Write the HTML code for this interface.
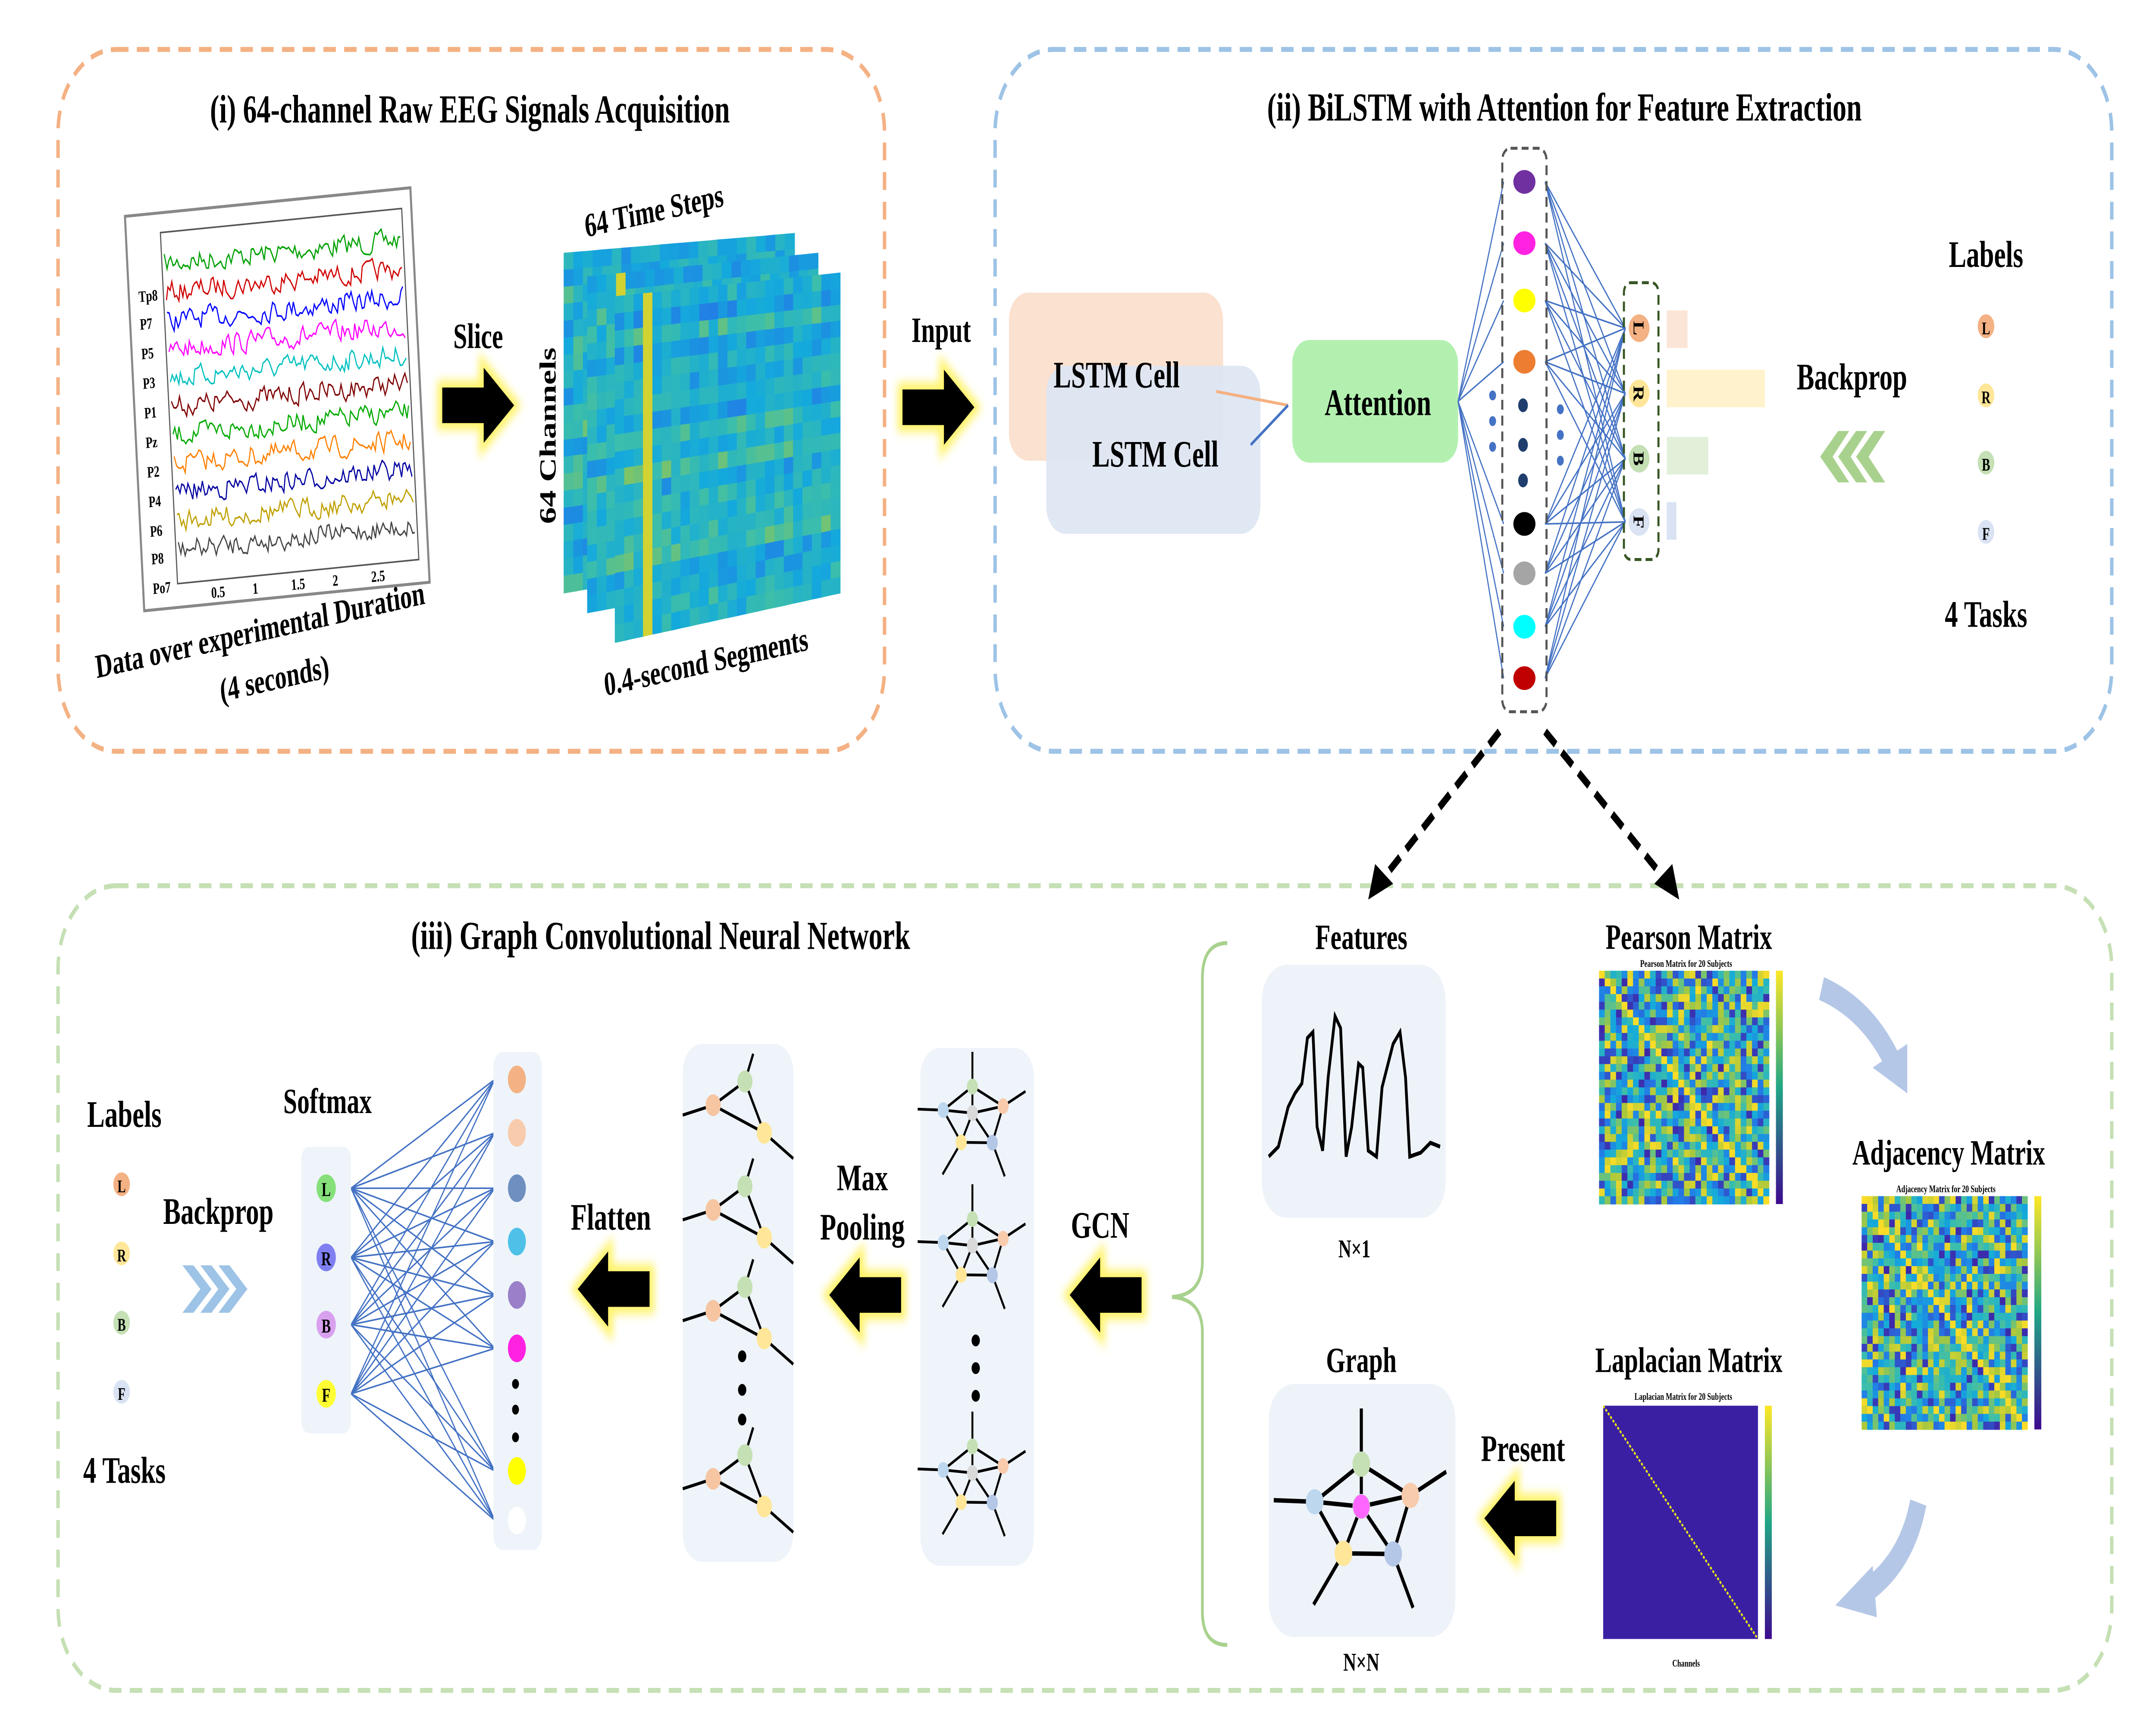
<!DOCTYPE html>
<html><head><meta charset="utf-8">
<style>
html,body{margin:0;padding:0;background:#fff;overflow:hidden;}
svg{display:block;width:100vw;height:100vh;}
text{font-family:"Liberation Serif",serif;font-weight:bold;fill:#000;}
</style></head>
<body>
<svg id="s" viewBox="0 0 1560 872.5" preserveAspectRatio="none" xmlns="http://www.w3.org/2000/svg">
<defs>
<filter id="glow" x="-30%" y="-30%" width="160%" height="160%"><feGaussianBlur stdDeviation="2.5"/></filter>
<linearGradient id="cb" x1="0" y1="1" x2="0" y2="0"><stop offset="0" stop-color="#3e0a8f"/><stop offset="0.5" stop-color="#21a685"/><stop offset="1" stop-color="#fde725"/></linearGradient>
<g id="arrR">
 <polygon points="0,-9 30,-9 30,-19 52,0 30,19 30,9 0,9" fill="#fff36a" stroke="#fff36a" stroke-width="7" filter="url(#glow)"/>
 <polygon points="0,-9 30,-9 30,-19 52,0 30,19 30,9 0,9" fill="#000"/>
</g>
<g id="tri" stroke="#000" stroke-width="1.6">
 <line x1="494" y1="568" x2="516" y2="563"/><line x1="516" y1="563" x2="539" y2="551"/>
 <line x1="539" y1="551" x2="545" y2="537"/><line x1="539" y1="551" x2="553" y2="577"/>
 <line x1="516" y1="563" x2="553" y2="577"/><line x1="553" y1="577" x2="574" y2="590"/>
 <circle cx="516" cy="563" r="5.5" fill="#f6c6a3" stroke="none"/>
 <circle cx="539" cy="551" r="5.5" fill="#c5e0b4" stroke="none"/>
 <circle cx="553" cy="577" r="5.5" fill="#ffe699" stroke="none"/>
</g>
<g id="pent" stroke="#000" stroke-width="1.4">
 <line x1="703.6" y1="549.6" x2="703.6" y2="532"/><line x1="682.5" y1="561.5" x2="664" y2="561"/>
 <line x1="725.8" y1="559.5" x2="742" y2="552"/><line x1="695.5" y1="577.8" x2="682" y2="594"/>
 <line x1="718" y1="578" x2="727" y2="595"/>
 <polygon points="703.6,549.6 725.8,559.5 718,578 695.5,577.8 682.5,561.5" fill="none"/>
 <line x1="703.6" y1="563" x2="703.6" y2="549.6"/><line x1="703.6" y1="563" x2="682.5" y2="561.5"/>
 <line x1="703.6" y1="563" x2="725.8" y2="559.5"/><line x1="703.6" y1="563" x2="695.5" y2="577.8"/>
 <line x1="703.6" y1="563" x2="718" y2="578"/>
 <circle cx="703.6" cy="563" r="4" fill="#d9d9d9" stroke="none"/>
 <circle cx="703.6" cy="549.6" r="4" fill="#c5e0b4" stroke="none"/>
 <circle cx="682.5" cy="561.5" r="4" fill="#bdd7ee" stroke="none"/>
 <circle cx="725.8" cy="559.5" r="4" fill="#f8cbad" stroke="none"/>
 <circle cx="695.5" cy="577.8" r="4" fill="#ffe699" stroke="none"/>
 <circle cx="718" cy="578" r="4" fill="#b4c7e7" stroke="none"/>
</g>
</defs>

<rect x="42" y="25" width="598" height="355" rx="42" fill="none" stroke="#f4b183" stroke-width="2.5" stroke-dasharray="9,6"/>
<rect x="720" y="25" width="808" height="355" rx="42" fill="none" stroke="#9dc3e6" stroke-width="2.5" stroke-dasharray="9,6"/>
<rect x="42" y="448" width="1486" height="407" rx="42" fill="none" stroke="#c5e0b4" stroke-width="2.5" stroke-dasharray="9,6"/>

<text x="340" y="62" font-size="20" text-anchor="middle">(i) 64-channel Raw EEG Signals Acquisition</text>
<text x="1132" y="61" font-size="20" text-anchor="middle">(ii) BiLSTM with Attention for Feature Extraction</text>
<text x="478" y="480" font-size="20" text-anchor="middle">(iii) Graph Convolutional Neural Network</text>

<g transform="rotate(-4 200 200)">
 <rect x="97" y="102" width="207" height="200" fill="#fff" stroke="#888" stroke-width="1.5"/>
 <rect x="122" y="112" width="175" height="178" fill="#fff" stroke="#555" stroke-width="0.8"/>
 <g id="eeg"></g>
 <g>
  <text x="104" y="146" font-size="8">Tp8</text><text x="104" y="160" font-size="8">P7</text>
  <text x="104" y="175" font-size="8">P5</text><text x="104" y="190" font-size="8">P3</text>
  <text x="104" y="205" font-size="8">P1</text><text x="104" y="220" font-size="8">Pz</text>
  <text x="104" y="235" font-size="8">P2</text><text x="104" y="250" font-size="8">P4</text>
  <text x="104" y="265" font-size="8">P6</text><text x="104" y="279" font-size="8">P8</text>
  <text x="104" y="294" font-size="8">Po7</text>
  <text x="146" y="299" font-size="8">0.5</text><text x="176" y="299" font-size="8">1</text>
  <text x="204" y="299" font-size="8">1.5</text><text x="234" y="299" font-size="8">2</text>
  <text x="262" y="299" font-size="8">2.5</text>
 </g>
</g>
<text transform="translate(70 343) rotate(-9)" font-size="17">Data over experimental Duration</text>
<text transform="translate(160 355) rotate(-9)" font-size="17">(4 seconds)</text>

<text x="346" y="176" font-size="18" text-anchor="middle">Slice</text>
<use href="#arrR" x="320" y="205"/>

<g id="heat"></g>
<text transform="translate(424 120) rotate(-9)" font-size="17">64 Time Steps</text>
<text transform="translate(402 265) rotate(-90)" font-size="17">64 Channels</text>
<text transform="translate(438 352) rotate(-9)" font-size="17">0.4-second Segments</text>

<text x="681" y="173" font-size="18" text-anchor="middle">Input</text>
<use href="#arrR" x="653" y="206"/>

<rect x="730" y="148" width="155" height="85" rx="14" fill="#fbe1d0"/>
<rect x="757" y="185" width="155" height="85" rx="14" fill="#dde6f3" opacity="0.92"/>
<text x="808" y="196" font-size="19" text-anchor="middle" fill="#333">LSTM Cell</text>
<text x="836" y="236" font-size="19" text-anchor="middle">LSTM Cell</text>
<line x1="880" y1="198" x2="932" y2="205" stroke="#f4b183" stroke-width="1.5"/>
<line x1="905" y1="225" x2="932" y2="205" stroke="#4472c4" stroke-width="1.5"/>
<rect x="935" y="172" width="120" height="62" rx="12" fill="#b3f0b0"/>
<text x="997" y="210" font-size="19" text-anchor="middle">Attention</text>

<g id="nn1"></g>
<rect x="1087" y="75" width="32" height="285" rx="6" fill="none" stroke="#555" stroke-width="1.5" stroke-dasharray="5,3"/>
<g>
 <ellipse cx="1103" cy="92" rx="8" ry="6" fill="#7030a0"/>
 <ellipse cx="1103" cy="123" rx="8" ry="6" fill="#ff22e0"/>
 <ellipse cx="1103" cy="152" rx="8" ry="6" fill="#ffff00"/>
 <ellipse cx="1103" cy="183" rx="8" ry="6" fill="#ed7d31"/>
 <circle cx="1102" cy="205" r="3.5" fill="#1f3e6e"/><circle cx="1102" cy="225" r="3.5" fill="#1f3e6e"/><circle cx="1102" cy="243" r="3.5" fill="#1f3e6e"/>
 <ellipse cx="1103" cy="265" rx="8" ry="6" fill="#000"/>
 <ellipse cx="1103" cy="290" rx="8" ry="6" fill="#a5a5a5"/>
 <ellipse cx="1103" cy="317" rx="8" ry="6" fill="#00ffff"/>
 <ellipse cx="1103" cy="343" rx="8" ry="6" fill="#c00000"/>
 <circle cx="1080" cy="200" r="2.5" fill="#4472c4"/><circle cx="1080" cy="213" r="2.5" fill="#4472c4"/><circle cx="1080" cy="226" r="2.5" fill="#4472c4"/>
 <circle cx="1129" cy="207" r="2.5" fill="#4472c4"/><circle cx="1129" cy="220" r="2.5" fill="#4472c4"/><circle cx="1129" cy="233" r="2.5" fill="#4472c4"/>
</g>
<rect x="1175" y="143" width="25" height="140" rx="5" fill="none" stroke="#375623" stroke-width="1.5" stroke-dasharray="5,3"/>
<g>
 <ellipse cx="1186" cy="166" rx="7.5" ry="7" fill="#f4b183"/><text transform="translate(1182 166) rotate(90)" font-size="11" text-anchor="middle">L</text>
 <ellipse cx="1186" cy="199" rx="7.5" ry="7" fill="#ffe699"/><text transform="translate(1182 199) rotate(90)" font-size="11" text-anchor="middle">R</text>
 <ellipse cx="1186" cy="232" rx="7.5" ry="7" fill="#c5e0b4"/><text transform="translate(1182 232) rotate(90)" font-size="11" text-anchor="middle">B</text>
 <ellipse cx="1186" cy="264" rx="7.5" ry="7" fill="#dae3f3"/><text transform="translate(1182 264) rotate(90)" font-size="11" text-anchor="middle">F</text>
</g>
<rect x="1206" y="157" width="15" height="19" fill="#fbe5d6"/>
<rect x="1206" y="187" width="71" height="19" fill="#fff2cc"/>
<rect x="1206" y="221" width="30" height="19" fill="#e2f0d9"/>
<rect x="1206" y="254" width="7" height="19" fill="#dae3f3"/>

<text x="1340" y="197" font-size="19" text-anchor="middle">Backprop</text>
<g fill="#a9d18e">
 <polygon points="1330,218 1338,218 1326,231 1338,244 1330,244 1317,231"/>
 <polygon points="1343,218 1351,218 1339,231 1351,244 1343,244 1330,231"/>
 <polygon points="1356,218 1364,218 1352,231 1364,244 1356,244 1343,231"/>
</g>
<text x="1437" y="135" font-size="19" text-anchor="middle">Labels</text>
<circle cx="1437" cy="165" r="6" fill="#f4b183"/><text x="1437" y="169" font-size="9" text-anchor="middle">L</text>
<circle cx="1437" cy="200" r="6" fill="#ffe699"/><text x="1437" y="204" font-size="9" text-anchor="middle">R</text>
<circle cx="1437" cy="234" r="6" fill="#c5e0b4"/><text x="1437" y="238" font-size="9" text-anchor="middle">B</text>
<circle cx="1437" cy="269" r="6" fill="#dae3f3"/><text x="1437" y="273" font-size="9" text-anchor="middle">F</text>
<text x="1437" y="317" font-size="19" text-anchor="middle">4 Tasks</text>

<g stroke="#000" stroke-width="4" stroke-dasharray="10,6" fill="none">
 <line x1="1085" y1="370" x2="1000" y2="445"/>
 <line x1="1118" y1="370" x2="1205" y2="445"/>
</g>
<polygon points="990,455 995,437 1008,447" fill="#000"/>
<polygon points="1215,455 1197,447 1210,437" fill="#000"/>

<path d="M888,477 Q870,477 870,495 L870,638 Q870,655 848,656 Q870,657 870,674 L870,815 Q870,832 888,832" fill="none" stroke="#a9d18e" stroke-width="2"/>

<text x="985" y="480" font-size="18" text-anchor="middle">Features</text>
<rect x="913" y="488" width="133" height="128" rx="18" fill="#eef3f9"/>
<polyline points="918,585 925,580 932,560 937,553 942,548 946,525 950,522 953,570 957,582 961,545 966,514 970,520 974,585 978,570 983,538 986,540 990,582 996,585 1000,550 1008,528 1013,522 1017,545 1020,585 1028,583 1035,578 1042,580" fill="none" stroke="#000" stroke-width="2"/>
<text x="980" y="636" font-size="13" text-anchor="middle">N×1</text>

<text x="985" y="694" font-size="18" text-anchor="middle">Graph</text>
<rect x="918" y="700" width="135" height="128" rx="18" fill="#eef3f9"/>
<g transform="translate(985 762) scale(1.6) translate(-703.6 -563)"><use href="#pent"/></g>
<circle cx="985" cy="762" r="6" fill="#ff66ff"/>
<text x="985" y="845" font-size="13" text-anchor="middle">N×N</text>

<text x="1222" y="480" font-size="18" text-anchor="middle">Pearson Matrix</text>
<text x="1220" y="489" font-size="5" text-anchor="middle">Pearson Matrix for 20 Subjects</text>
<g id="pear"></g>
<text x="1410" y="589" font-size="18" text-anchor="middle">Adjacency Matrix</text>
<text x="1408" y="603" font-size="5" text-anchor="middle">Adjacency Matrix for 20 Subjects</text>
<g id="adj"></g>
<text x="1222" y="694" font-size="18" text-anchor="middle">Laplacian Matrix</text>
<text x="1218" y="708" font-size="5" text-anchor="middle">Laplacian Matrix for 20 Subjects</text>
<rect x="1160" y="711" width="112" height="118" fill="#3b1fa3"/>
<line x1="1160" y1="711" x2="1272" y2="829" stroke="#e6e619" stroke-width="1.2" stroke-dasharray="1.5,1"/>
<rect x="1277" y="711" width="5" height="118" fill="url(#cb)"/>
<text x="1220" y="843" font-size="5" text-anchor="middle">Channels</text>

<path d="M1318,500 Q1350,510 1368,535" fill="none" stroke="#b4c7e7" stroke-width="12"/>
<polygon points="1355,540 1380,553 1380,528" fill="#b4c7e7"/>
<path d="M1388,760 Q1380,790 1350,805" fill="none" stroke="#b4c7e7" stroke-width="12"/>
<polygon points="1355,792 1328,812 1358,818" fill="#b4c7e7"/>

<text x="1102" y="739" font-size="19" text-anchor="middle">Present</text>
<g transform="translate(1126 768) scale(-1 1)"><use href="#arrR"/></g>

<text x="796" y="626" font-size="19" text-anchor="middle">GCN</text>
<g transform="translate(826 655) scale(-1 1)"><use href="#arrR"/></g>
<rect x="666" y="530" width="82" height="262" rx="14" fill="#eef4fa"/>
<use href="#pent"/><use href="#pent" y="67"/><use href="#pent" y="182"/>
<circle cx="706" cy="678" r="3" fill="#000"/><circle cx="706" cy="692" r="3" fill="#000"/><circle cx="706" cy="706" r="3" fill="#000"/>

<text x="624" y="602" font-size="19" text-anchor="middle">Max</text>
<text x="624" y="627" font-size="19" text-anchor="middle">Pooling</text>
<g transform="translate(652 655) scale(-1 1)"><use href="#arrR"/></g>
<rect x="494" y="528" width="80" height="262" rx="14" fill="#eef4fa"/>
<use href="#tri" y="-4"/><use href="#tri" y="49"/><use href="#tri" y="100"/><use href="#tri" y="185"/>
<circle cx="537" cy="686" r="3" fill="#000"/><circle cx="537" cy="703" r="3" fill="#000"/><circle cx="537" cy="718" r="3" fill="#000"/>

<text x="442" y="622" font-size="19" text-anchor="middle">Flatten</text>
<g transform="translate(470 652) scale(-1 1)"><use href="#arrR"/></g>

<g id="nn2"></g>
<rect x="357" y="532" width="35" height="252" rx="7" fill="#eef4fa"/>
<g>
 <ellipse cx="374" cy="546" rx="6.5" ry="7" fill="#f4b183"/>
 <ellipse cx="374" cy="573" rx="6.5" ry="7" fill="#f8cbad"/>
 <ellipse cx="374" cy="601" rx="6.5" ry="7" fill="#6f8fc0"/>
 <ellipse cx="374" cy="628" rx="6.5" ry="7" fill="#4fc1e9"/>
 <ellipse cx="374" cy="655" rx="6.5" ry="7" fill="#9b7fc8"/>
 <ellipse cx="374" cy="682" rx="6.5" ry="7" fill="#ff22e0"/>
 <circle cx="373" cy="700" r="2.5" fill="#000"/><circle cx="373" cy="713" r="2.5" fill="#000"/><circle cx="373" cy="727" r="2.5" fill="#000"/>
 <ellipse cx="374" cy="744" rx="6.5" ry="7" fill="#ffff00"/>
 <ellipse cx="374" cy="769" rx="6.5" ry="7" fill="#fff"/>
</g>
<text x="237" y="563" font-size="18" text-anchor="middle">Softmax</text>
<rect x="218" y="580" width="36" height="145" rx="6" fill="#eef4fa"/>
<circle cx="236" cy="601" r="7" fill="#86e07a"/><text x="236" y="605" font-size="10" text-anchor="middle">L</text>
<circle cx="236" cy="636" r="7" fill="#7f7ff2"/><text x="236" y="640" font-size="10" text-anchor="middle">R</text>
<circle cx="236" cy="670" r="7" fill="#d9a0f0"/><text x="236" y="674" font-size="10" text-anchor="middle">B</text>
<circle cx="236" cy="705" r="7" fill="#ffff33"/><text x="236" y="709" font-size="10" text-anchor="middle">F</text>

<text x="158" y="619" font-size="19" text-anchor="middle">Backprop</text>
<g fill="#9dc3e6">
 <polygon points="132,640 140,640 153,652 140,664 132,664 145,652"/>
 <polygon points="145,640 153,640 166,652 153,664 145,664 158,652"/>
 <polygon points="158,640 166,640 179,652 166,664 158,664 171,652"/>
</g>
<text x="90" y="570" font-size="19" text-anchor="middle">Labels</text>
<circle cx="88" cy="599" r="6" fill="#f4b183"/><text x="88" y="603" font-size="9" text-anchor="middle">L</text>
<circle cx="88" cy="634" r="6" fill="#ffe699"/><text x="88" y="638" font-size="9" text-anchor="middle">R</text>
<circle cx="88" cy="669" r="6" fill="#c5e0b4"/><text x="88" y="673" font-size="9" text-anchor="middle">B</text>
<circle cx="88" cy="704" r="6" fill="#dae3f3"/><text x="88" y="708" font-size="9" text-anchor="middle">F</text>
<text x="90" y="750" font-size="19" text-anchor="middle">4 Tasks</text>
</svg>
<script>
(function(){
var NS="http://www.w3.org/2000/svg";
function el(p,t,a){var e=document.createElementNS(NS,t);for(var k in a)e.setAttribute(k,a[k]);p.appendChild(e);return e;}
var seed=7;function r(){seed=(seed*16807)%2147483647;return seed/2147483647;}
var g=document.getElementById('eeg');var cols=['#00a000','#d00000','#0000ff','#ff00ff','#00c0c0','#7f0000','#00aa00','#ff8000','#0000a0','#c0a000','#444'];
for(var i=0;i<11;i++){var y0=128+i*14.5,pts=[],y=y0;for(var x=124;x<296;x+=1.5){y=y0+(r()-0.5)*10+(y-y0)*0.3;pts.push(x.toFixed(1)+','+y.toFixed(1));}
el(g,'polyline',{points:pts.join(' '),fill:'none',stroke:cols[i],'stroke-width':0.8});}
function cmap(v){var c=[[62,38,168],[36,120,230],[20,170,220],[60,190,170],[170,200,60],[250,220,40]];v=Math.max(0,Math.min(0.999,v))*5;var i=Math.floor(v),f=v-i,a=c[i],b=c[i+1];return 'rgb('+[0,1,2].map(function(k){return Math.round(a[k]+(b[k]-a[k])*f)}).join(',')+')';}
var h=document.getElementById('heat');
[[408,128,575,118,575,280,408,300],[425,140,592,128,592,288,425,310],[445,150,608,138,608,300,445,325]].forEach(function(q,idx){
 var n=24,m=20;var grp=el(h,'g',{});
 var rows=[];for(var j=0;j<m;j++)rows.push(r());
 for(var i=0;i<n;i++)for(var j=0;j<m;j++){
  var u0=i/n,u1=(i+1)/n,v0=j/m,v1=(j+1)/m;
  var P=function(u,v){var tx=q[0]+(q[2]-q[0])*u,ty=q[1]+(q[3]-q[1])*u,bx=q[6]+(q[4]-q[6])*u,by=q[7]+(q[5]-q[7])*u;return (tx+(bx-tx)*v).toFixed(1)+','+(ty+(by-ty)*v).toFixed(1);};
  var val=0.35+0.25*rows[j]+0.25*(r()-0.5);if(i==3&&idx>0)val=0.9;
  el(grp,'polygon',{points:[P(u0,v0),P(u1,v0),P(u1,v1),P(u0,v1)].join(' '),fill:cmap(val),stroke:cmap(val),'stroke-width':0.3});
 }
});
function mat(id,x,y,w,hh,diag){var gg=document.getElementById(id);var n=30,cw=w/n,ch=hh/n;
 for(var i=0;i<n;i++)for(var j=0;j<n;j++){var v=(i==j&&diag)?1:r();el(gg,'rect',{x:(x+j*cw).toFixed(2),y:(y+i*ch).toFixed(2),width:(cw+0.2).toFixed(2),height:(ch+0.2).toFixed(2),fill:cmap(v)});}
 el(gg,'rect',{x:x+w+5,y:y,width:5,height:hh,fill:'url(#cb)'});}
mat('pear',1157,491,123,118,true);mat('adj',1347,605,120,118,true);
var n1=document.getElementById('nn1');var ys=[92,123,152,183,265,290,317,343];
ys.forEach(function(y){el(n1,'line',{x1:1055,y1:203,x2:1088,y2:y,stroke:'#4472c4','stroke-width':0.8});
 [166,199,232,264].forEach(function(t){el(n1,'line',{x1:1118,y1:y,x2:1176,y2:t,stroke:'#4472c4','stroke-width':0.8});});});
var n2=document.getElementById('nn2');[546,573,601,628,655,682,744,769].forEach(function(y){[601,636,670,705].forEach(function(t){el(n2,'line',{x1:254,y1:t,x2:358,y2:y,stroke:'#4472c4','stroke-width':0.8});});});
})();
</script>
</body></html>
